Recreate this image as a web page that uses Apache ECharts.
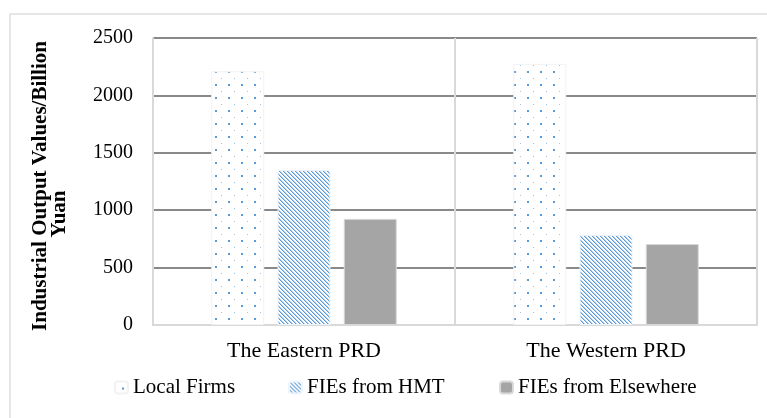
<!DOCTYPE html>
<html>
<head>
<meta charset="utf-8">
<script src="https://cdn.jsdelivr.net/npm/echarts@6/dist/echarts.min.js"></script>
<style>
html,body{margin:0;padding:0;background:#fff;}
#chart{width:767px;height:418px;}
</style>
</head>
<body>
<div id="chart"></div>
<script>
var categories = ['The Eastern PRD', 'The Western PRD'];
var seriesNames = ['Local Firms', 'FIEs from HMT', 'FIEs from Elsewhere'];
var localFirms = [2210, 2275];
var fiesHMT = [1350, 785];
var fiesElsewhere = [925, 705];
var yTicks = [0, 500, 1000, 1500, 2000, 2500];
var yTitleLines = ['Industrial Output Values/Billion', 'Yuan'];

function dotPattern() {
  var c = document.createElement('canvas');
  c.width = 13; c.height = 13;
  var g = c.getContext('2d');
  g.fillStyle = '#ffffff'; g.fillRect(0, 0, 13, 13);
  g.fillStyle = '#9dc3e6'; g.fillRect(0, 0, 1, 1);
  g.fillStyle = '#5b9bd5'; g.fillRect(7, 6, 2, 2);
  return c;
}
function diagPattern() {
  var c = document.createElement('canvas');
  c.width = 4; c.height = 4;
  var g = c.getContext('2d');
  g.fillStyle = '#ffffff'; g.fillRect(0, 0, 4, 4);
  for (var i = 0; i < 4; i++) {
    g.fillStyle = '#5b9bd5'; g.fillRect(i, i, 1, 1);
    g.fillStyle = '#b4d0ec'; g.fillRect((i + 1) % 4, i, 1, 1);
  }
  return c;
}

var font = '"Liberation Serif", "Times New Roman", serif';
var chart = echarts.init(document.getElementById('chart'), null, {renderer: 'canvas'});

function legendAt(name, left) {
  return {
    data: [name], left: left, top: 377, padding: 0,
    itemWidth: 13, itemHeight: 12,
    textStyle: {fontFamily: font, fontSize: 21, color: '#000'},
    selectedMode: false
  };
}
function titleText(txt, x, y) {
  return {
    type: 'text', x: x, y: y, rotation: Math.PI / 2, silent: true,
    style: {
      text: txt, fontFamily: font, fontSize: 21, fontWeight: 'bold', fill: '#000',
      align: 'center', verticalAlign: 'middle'
    }
  };
}

chart.setOption({
  animation: false,
  backgroundColor: '#fff',
  graphic: [{
    type: 'rect', shape: {x: 10, y: 14, width: 800, height: 500},
    style: {fill: 'none', stroke: '#dedede', lineWidth: 1.5}, silent: true, z: -10
  },
    titleText(yTitleLines[0], 41, 186),
    titleText(yTitleLines[1], 60, 214)
  ],
  grid: {left: 153, right: 10, top: 38, bottom: 93},
  legend: [
    legendAt(seriesNames[0], 114),
    legendAt(seriesNames[1], 288),
    legendAt(seriesNames[2], 499)
  ],
  xAxis: {
    type: 'category', data: categories,
    axisLine: {show: true, lineStyle: {color: '#d9d9d9', width: 2}},
    axisTick: {show: false},
    splitLine: {show: true, lineStyle: {color: '#d9d9d9', width: 2}},
    axisLabel: {fontFamily: font, fontSize: 22, color: '#000', margin: 15}
  },
  yAxis: {
    type: 'value', min: yTicks[0], max: yTicks[yTicks.length - 1], interval: 500,
    axisLine: {show: true, lineStyle: {color: '#d9d9d9', width: 2}},
    axisTick: {show: false},
    splitLine: {show: true, showMinLine: false, lineStyle: {color: '#898989', width: 2}},
    axisLabel: {fontFamily: font, fontSize: 20, color: '#000', margin: 20,
      formatter: function (v) { return String(v); }}
  },
  series: [
    {name: seriesNames[0], type: 'bar', data: localFirms, barWidth: 53, barGap: '25%',
     itemStyle: {color: {image: dotPattern(), repeat: 'repeat'}, borderColor: '#f2f2f2', borderWidth: 1}},
    {name: seriesNames[1], type: 'bar', data: fiesHMT, barWidth: 53, barGap: '25%',
     itemStyle: {color: {image: diagPattern(), repeat: 'repeat'}, borderColor: '#eef4fb', borderWidth: 1}},
    {name: seriesNames[2], type: 'bar', data: fiesElsewhere, barWidth: 53, barGap: '25%',
     itemStyle: {color: '#a5a5a5', borderColor: '#d9d9d9', borderWidth: 1}}
  ]
});
</script>
</body>
</html>
